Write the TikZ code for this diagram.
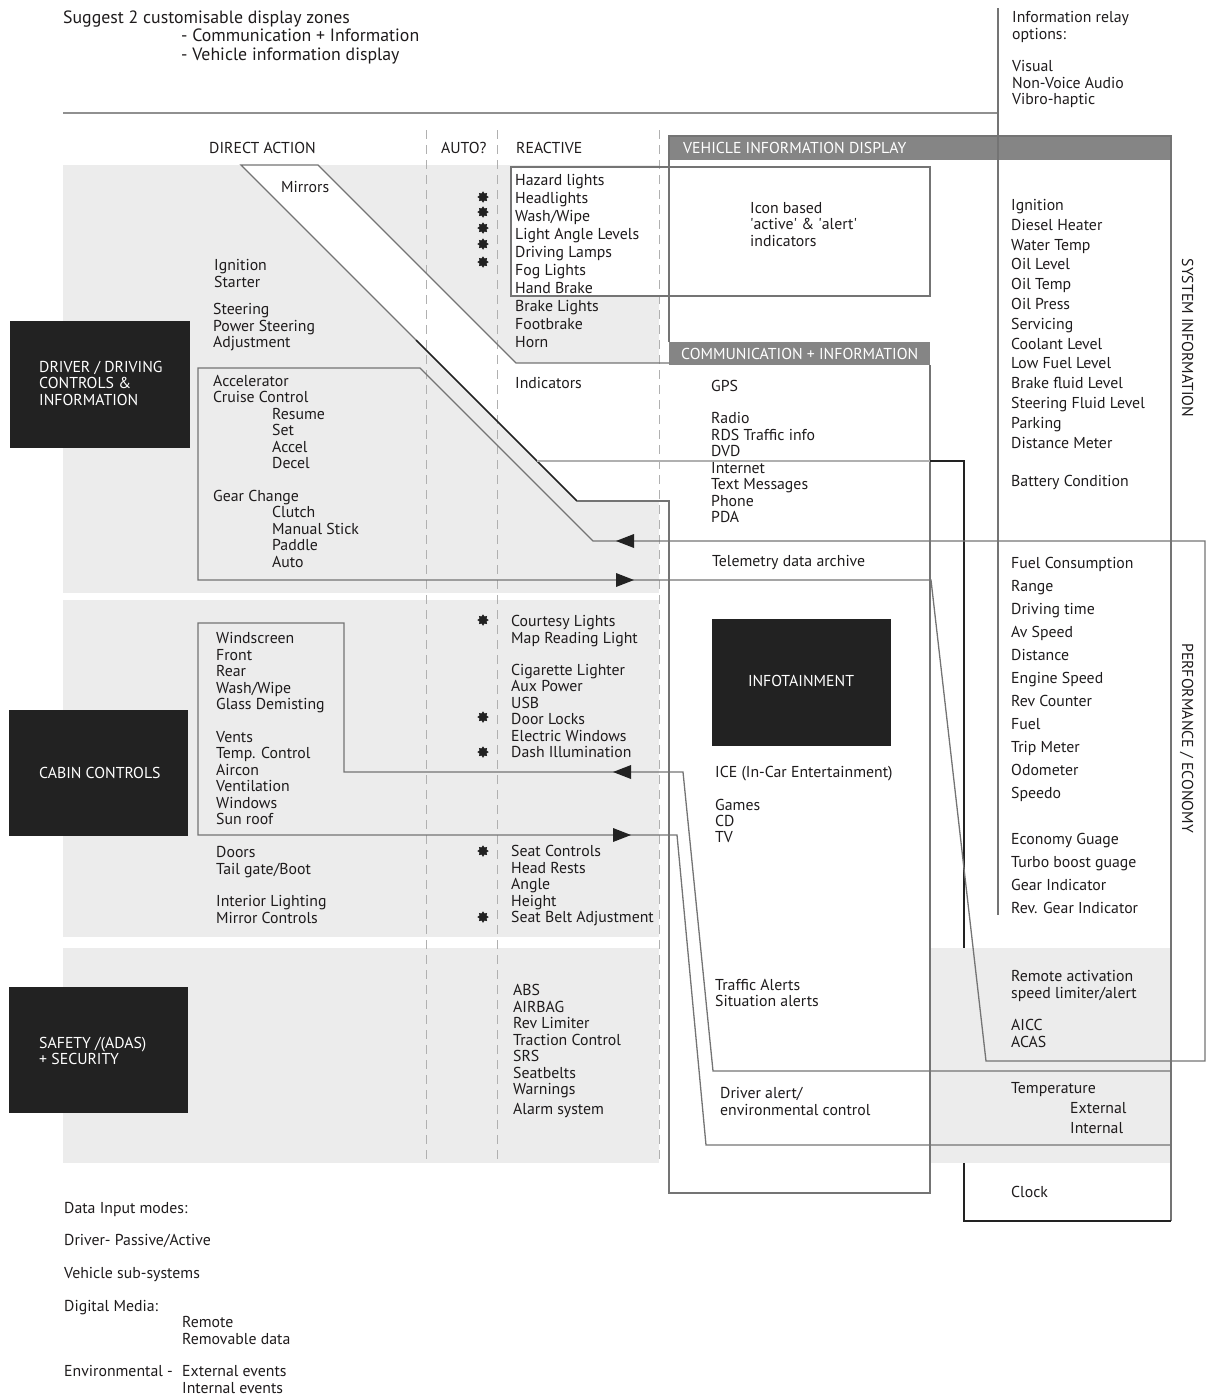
\documentclass[tikz,border=0pt]{standalone}
\usepackage{fontspec}
\setmainfont{PT Sans}
\usetikzlibrary{shapes.geometric}
\definecolor{ink}{HTML}{1E1B1C}
\definecolor{bandc}{HTML}{ECECEC}
\definecolor{linec}{HTML}{747474}
\definecolor{lightl}{HTML}{B0B0B0}
\definecolor{darkc}{HTML}{222222}
\definecolor{hdrc}{HTML}{858585}
\definecolor{dashc}{HTML}{B0B0B0}
\newcommand\vlst[5]{\foreach \t [count=\i from 1] in {#5}{\node[txt] (#4\i) at (#1,{#2+(\i-1)*#3}) {\t};}}
\begin{document}
\begin{tikzpicture}[x=1pt,y=-1pt,
  txt/.style={anchor=west, inner sep=0pt, text height=11pt, text depth=0pt, font=\fontsize{15.8}{16.5}\selectfont, text=ink},
  bigtxt/.style={txt, text height=12pt, font=\fontsize{17.8}{18}\selectfont},
  wtxt/.style={anchor=west, inner sep=0pt, font=\fontsize{15.8}{16.5}\selectfont, text=white, align=left},
  ln/.style={draw=linec, line width=1.3pt},
  lnl/.style={draw=lightl, line width=1.2pt},
  dk/.style={draw=darkc, line width=1.6pt},
  blk/.style={fill=darkc, draw=darkc, anchor=north west, inner sep=0pt},
  hdr/.style={fill=hdrc, anchor=north west, inner sep=0pt},
  star8/.style={star, star points=8, star point ratio=1.5, fill=darkc, inner sep=0pt, minimum size=11.5pt},
  tip/.style={fill=darkc}]
\useasboundingbox (0,0) rectangle (1206,1398);
% ---------- bands
\fill[bandc] (63,165) rectangle (659,593);
\fill[bandc] (63,600) rectangle (659,937);
\fill[bandc] (63,948) rectangle (659,1163);
\fill[bandc] (930,948) rectangle (1171,1163);
\fill[white] (241,165) -- (318,165) -- (516,363) -- (669,363) -- (669,501) -- (577,501) -- cycle;
\fill[white] (511,167) rectangle (659,296);
% ---------- dashed column separators
\foreach \xx in {426,497,659} \draw[dashc, line width=1pt, dash pattern=on 9pt off 6pt] (\xx,130) -- (\xx,1163);
% ---------- top rule
\draw[draw=linec!80, line width=2pt] (63,113) -- (998,113);
% ---------- headers
\node[hdr, minimum width=502pt, minimum height=24pt] (vidh) at (669,136) {};
\node[hdr, minimum width=261pt, minimum height=23pt] (comh) at (669,342) {};
% ---------- mirrors band
\draw[ln] (416,340) -- (241,165) -- (318,165) -- (516,363) -- (669,363);
\draw[dk] (416,340) -- (577,501);
\draw[ln] (577,501) -- (669,501) -- (669,1193) -- (930,1193) -- (930,365);
% ---------- hazard box
\draw[ln] (511,167) rectangle (930,296);
% ---------- vehicle information display frame
\draw[ln] (669,342) -- (669,136) -- (1171,136) -- (1171,1221);
% ---------- DVD link
\draw[lnl] (537,461) -- (930,461);
\draw[dk] (930,461) -- (964,461) -- (964,948);
\draw[dk] (964,1163) -- (964,1221) -- (1171,1221);
% ---------- system info column rule
\draw[ln] (998,8) -- (998,915);
% ---------- accelerator loop
\draw[ln] (198,368) -- (420,368) -- (593,541) -- (1205,541) -- (1205,1061) -- (986,1061) -- (931,580) -- (198,580) -- cycle;
\coordinate (a1) at (616,541);
\coordinate (a2) at (634,580);
\fill[tip] (a1) -- ++(18,-7) -- ++(0,14) -- cycle;
\fill[tip] (a2) -- ++(-18,-7) -- ++(0,14) -- cycle;
% ---------- cabin loop
\draw[ln] (198,623) -- (344,623) -- (344,772) -- (683,772) -- (713,1071) -- (1171,1071) -- (1171,1145) -- (706,1145) -- (677,835) -- (198,835) -- cycle;
\coordinate (a3) at (613,772);
\coordinate (a4) at (631,835);
\fill[tip] (a3) -- ++(18,-7) -- ++(0,14) -- cycle;
\fill[tip] (a4) -- ++(-18,-7) -- ++(0,14) -- cycle;
% ---------- black boxes
\node[blk, minimum width=179pt, minimum height=126pt] (drvbox) at (10,321) {};
\node[blk, minimum width=178pt, minimum height=125pt] (cabbox) at (9,710) {};
\node[blk, minimum width=178pt, minimum height=125pt] (safbox) at (9,987) {};
\node[blk, minimum width=178pt, minimum height=126pt] (infbox) at (712,619) {};
\node[wtxt] (drvlbl) at (39,383) {DRIVER / DRIVING\\CONTROLS \&\\INFORMATION};
\node[wtxt] (cablbl) at (39,773) {CABIN CONTROLS};
\node[wtxt] (saflbl) at (39,1051) {SAFETY /(ADAS)\\+ SECURITY};
\node[wtxt, anchor=center] (inflbl) at (801,681) {INFOTAINMENT};
\node[wtxt] (vidlbl) at (683,148) {VEHICLE INFORMATION DISPLAY};
\node[wtxt] (comlbl) at (681,354) {COMMUNICATION + INFORMATION};
% ---------- stars
\foreach \yy [count=\i] in {197,212,228,244,262,620,717,752,851,917} \node[star8] (st\i) at (483,\yy) {};
% ---------- top texts
\node[bigtxt] (sug) at (63,17) {Suggest 2 customisable display zones};
\node[bigtxt] (sug1) at (181,35) {- Communication + Information};
\node[bigtxt] (sug2) at (181,54) {- Vehicle information display};
\vlst{1012}{17}{16.5}{rel}{Information relay,options:}
\vlst{1012}{66}{16.5}{opt}{Visual,Non-Voice Audio,Vibro-haptic}
\node[txt] (hda) at (209,148) {DIRECT ACTION};
\node[txt] (hauto) at (441,148) {AUTO?};
\node[txt] (hrea) at (516,148) {REACTIVE};
\node[txt] (mir) at (281,187) {Mirrors};
% ---------- driver controls
\vlst{214}{265}{16.8}{ign}{Ignition,Starter}
\vlst{213}{309}{16.5}{ste}{Steering,Power Steering,Adjustment}
\vlst{213}{381}{16.3}{acc}{Accelerator,Cruise Control}
\vlst{272}{414}{16.4}{cru}{Resume,Set,Accel,Decel}
\node[txt] (gear) at (213,496) {Gear Change};
\vlst{272}{512}{16.6}{gch}{Clutch,Manual Stick,Paddle,Auto}
\vlst{515}{180}{18}{rea}{Hazard lights,Headlights,Wash/Wipe,Light Angle Levels,Driving Lamps,Fog Lights,Hand Brake,Brake Lights,Footbrake,Horn}
\node[txt] (ind) at (515,383) {Indicators};
\node[txt] (icon1) at (750,208) {Icon based};
\node[txt] (icon2) at (750,224) {\textquotesingle active\textquotesingle\ \& \textquotesingle alert\textquotesingle};
\node[txt] (icon3) at (750,241) {indicators};
\node[txt] (gps) at (711,386) {GPS};
\vlst{711}{418}{16.5}{comm}{Radio,RDS Traffic info,DVD,Internet,Text Messages,Phone,PDA}
\node[txt] (tele) at (712,561) {Telemetry data archive};
% ---------- system information
\vlst{1011}{205}{19.8}{sys}{Ignition,Diesel Heater,Water Temp,Oil Level,Oil Temp,Oil Press,Servicing,Coolant Level,Low Fuel Level,Brake fluid Level,Steering Fluid Level,Parking,Distance Meter}
\node[txt] (batt) at (1011,481) {Battery Condition};
\vlst{1011}{563}{23}{perf}{Fuel Consumption,Range,Driving time,Av Speed,Distance,Engine Speed,Rev Counter,Fuel,Trip Meter,Odometer,Speedo}
\vlst{1011}{839}{23}{gau}{Economy Guage,Turbo boost guage,Gear Indicator,Rev. Gear Indicator}
\node[txt, anchor=center, rotate=-90, text depth=3pt] (sysl) at (1186,338) {SYSTEM INFORMATION};
\node[txt, anchor=center, rotate=-90, text depth=3pt] (perfl) at (1186,738) {PERFORMANCE / ECONOMY};
\vlst{1011}{976}{16.5}{rem}{Remote activation,speed limiter/alert}
\vlst{1011}{1025}{16.5}{aicc}{AICC,ACAS}
\node[txt] (temp) at (1011,1088) {Temperature};
\vlst{1070}{1108}{20}{tmp}{External,Internal}
\node[txt] (clock) at (1011,1192) {Clock};
% ---------- cabin
\vlst{216}{638}{16.5}{win}{Windscreen,Front,Rear,Wash/Wipe,Glass Demisting}
\vlst{216}{737}{16.4}{ven}{Vents,Temp. Control,Aircon,Ventilation,Windows,Sun roof}
\vlst{216}{852}{16.5}{door}{Doors,Tail gate/Boot}
\vlst{216}{901}{16.5}{intl}{Interior Lighting,Mirror Controls}
\vlst{511}{621}{16.8}{cour}{Courtesy Lights,Map Reading Light}
\vlst{511}{670}{16.4}{cig}{Cigarette Lighter,Aux Power,USB,Door Locks,Electric Windows,Dash Illumination}
\vlst{511}{851}{16.5}{seat}{Seat Controls,Head Rests,Angle,Height,Seat Belt Adjustment}
% ---------- infotainment
\node[txt] (ice) at (715,772) {ICE (In-Car Entertainment)};
\vlst{715}{805}{16.2}{gam}{Games,CD,TV}
\vlst{715}{985}{16.3}{traf}{Traffic Alerts,Situation alerts}
\vlst{720}{1093}{16.5}{dal}{Driver alert/,environmental control}
% ---------- safety
\vlst{513}{990}{16.5}{saf}{ABS,AIRBAG,Rev Limiter,Traction Control,SRS,Seatbelts,Warnings}
\node[txt] (alarm) at (513,1109) {Alarm system};
% ---------- data input modes
\node[txt] (dim) at (64,1208) {Data Input modes:};
\node[txt] (dpa) at (64,1240) {Driver- Passive/Active};
\node[txt] (vss) at (64,1273) {Vehicle sub-systems};
\node[txt] (dme) at (64,1306) {Digital Media:};
\vlst{182}{1322}{16.5}{dmi}{Remote,Removable data}
\node[txt] (env) at (64,1371) {Environmental -};
\vlst{182}{1371}{17}{evi}{External events,Internal events}
\end{tikzpicture}
\end{document}
